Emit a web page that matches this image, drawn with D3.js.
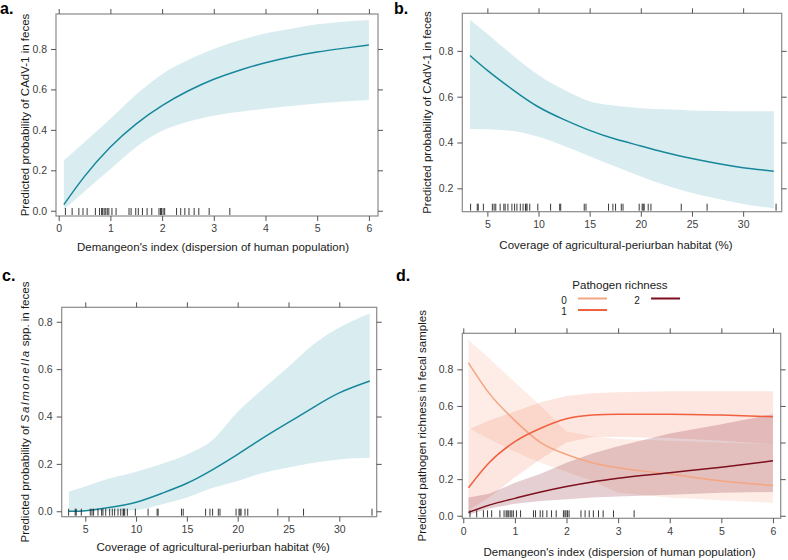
<!DOCTYPE html>
<html>
<head>
<meta charset="utf-8">
<script src="https://cdn.jsdelivr.net/npm/d3@7"></script>
<style>
  body { margin: 0; background: #fff; }
  svg text { font-family: "Liberation Sans", Arial, sans-serif; }
</style>
</head>
<body>
<svg id="fig" width="788" height="560"></svg>
<script>
// ---- data ----

// panel a: CAdV-1 vs Demangeon's index
var demX = [0.1, 0.5, 1, 1.5, 2, 2.5, 3, 3.5, 4, 4.5, 5, 5.5, 6];
var cadvDemFit = [0.03, 0.17, 0.315, 0.43, 0.52, 0.592, 0.65, 0.695, 0.732, 0.762, 0.785, 0.803, 0.82];
var cadvDemUpper = [0.25, 0.34, 0.455, 0.575, 0.675, 0.745, 0.80, 0.843, 0.877, 0.90, 0.922, 0.935, 0.943];
var cadvDemLower = [0.005, 0.095, 0.205, 0.315, 0.395, 0.44, 0.47, 0.49, 0.505, 0.518, 0.53, 0.54, 0.548];

// panel b: CAdV-1 vs agricultural-periurban coverage
var agriXb = [3.3, 5, 7.5, 10, 12.5, 15, 17.5, 20, 22.5, 25, 27.5, 30, 33];
var cadvAgriFit = [0.78, 0.715, 0.63, 0.555, 0.50, 0.453, 0.415, 0.385, 0.355, 0.33, 0.308, 0.29, 0.275];
var cadvAgriUpper = [0.936, 0.875, 0.78, 0.695, 0.63, 0.58, 0.56, 0.55, 0.545, 0.54, 0.538, 0.537, 0.537];
var cadvAgriLower = [0.459, 0.458, 0.45, 0.425, 0.385, 0.34, 0.295, 0.252, 0.212, 0.18, 0.155, 0.132, 0.113];

// panel c: Salmonella vs agricultural-periurban coverage
var agriXc = [3.4, 5, 7.5, 10, 12.5, 15, 17.5, 20, 22.5, 25, 27.5, 30, 33];
var salmFit = [0.0, 0.002, 0.017, 0.038, 0.075, 0.118, 0.175, 0.24, 0.31, 0.375, 0.44, 0.50, 0.55];
var salmUpper = [0.083, 0.105, 0.14, 0.167, 0.20, 0.24, 0.30, 0.42, 0.517, 0.61, 0.706, 0.776, 0.835];
var salmLower = [0.0, 0.0, 0.0, 0.005, 0.028, 0.058, 0.098, 0.128, 0.162, 0.185, 0.205, 0.219, 0.226];

// panel d: pathogen richness (0, 1, 2) vs Demangeon's index
var richX = [0.1, 0.5, 1, 1.5, 2, 2.5, 3, 4, 5, 6];
var richLevels = ['0', '1', '2'];
var rich0Fit = [0.836, 0.67, 0.52, 0.40, 0.335, 0.29, 0.262, 0.228, 0.19, 0.165];
var rich0Upper = [0.96, 0.86, 0.73, 0.60, 0.46, 0.435, 0.42, 0.41, 0.40, 0.39];
var rich0Lower = [0.48, 0.42, 0.35, 0.29, 0.24, 0.19, 0.125, 0.10, 0.085, 0.07];
var rich1Fit = [0.153, 0.29, 0.405, 0.478, 0.53, 0.55, 0.555, 0.555, 0.55, 0.541];
var rich1Upper = [0.47, 0.52, 0.57, 0.62, 0.655, 0.67, 0.675, 0.68, 0.68, 0.68];
var rich1Lower = [0.03, 0.10, 0.21, 0.31, 0.40, 0.43, 0.43, 0.425, 0.41, 0.39];
var rich2Fit = [0.018, 0.058, 0.095, 0.13, 0.16, 0.185, 0.205, 0.235, 0.265, 0.30];
var rich2Upper = [0.10, 0.12, 0.18, 0.23, 0.29, 0.34, 0.38, 0.45, 0.50, 0.555];
var rich2Lower = [0.005, 0.04, 0.065, 0.08, 0.09, 0.10, 0.105, 0.115, 0.125, 0.13];

// rug marks (observed covariate values)
var demRug = [0.13, 0.26, 0.39, 0.47, 0.55, 0.71, 0.79, 0.83, 0.85, 0.88, 0.91, 0.94, 0.97, 1.03, 1.11,
  1.36, 1.40, 1.49, 1.54, 1.62, 1.71, 1.80, 1.94, 1.97, 1.99, 2.02, 2.05, 2.28, 2.36, 2.44, 2.52,
  2.62, 2.71, 2.91, 3.31];
var agriRug = [3.36, 4.01, 4.11, 4.61, 5.49, 5.66, 5.82, 6.25, 6.61, 6.74, 7.01, 7.40, 7.66, 7.89, 8.22,
  8.49, 8.72, 8.78, 8.88, 9.14, 9.93, 11.18, 12.07, 12.17, 14.47, 14.64, 16.84, 17.27, 17.53, 18.09,
  18.26, 19.84, 20.13, 20.23, 20.33, 20.72, 20.99, 23.95, 26.48, 33.22];

// tick labels
var demTicks = [0, 1, 2, 3, 4, 5, 6];
var agriTicks = [5, 10, 15, 20, 25, 30];
var probTicks = [0, 0.2, 0.4, 0.6, 0.8];
var probTicksB = [0.2, 0.4, 0.6, 0.8];

var TEAL = '#17879a', TEAL_BAND = '#d9edf1';
var richColors = ['#f4a582', '#f0603e', '#7d0f1f'];
var richBandOpacity = [0.2, 0.16, 0.2];

var svg = d3.select('#fig');

function zip(_x, _y) {
  return _x.map(function(d, i) { return [d, _y[i]]; });
}

function drawPanel(_p) {
  var x = d3.scaleLinear().domain(_p.xDomain).range([_p.box.left, _p.box.right]);
  var y = d3.scaleLinear().domain(_p.yDomain).range([_p.box.bottom, _p.box.top]);
  var g = svg.append('g');

  var clipId = 'clip-' + _p.name;
  svg.append('clipPath').attr('id', clipId)
    .append('rect')
    .attr('x', _p.box.left).attr('y', _p.box.top)
    .attr('width', _p.box.right - _p.box.left)
    .attr('height', _p.box.bottom - _p.box.top);

  var plot = g.append('g').attr('clip-path', 'url(#' + clipId + ')');

  // confidence bands first, lines on top
  _p.series.forEach(function(s) {
    var area = d3.area()
      .curve(s.bandCurve)
      .x(function(d) { return x(d[0]); })
      .y0(function(d) { return y(d[1]); })
      .y1(function(d) { return y(d[2]); });
    var rows = _p.xs.map(function(d, i) { return [d, s.lower[i], s.upper[i]]; });
    plot.append('path')
      .attr('d', area(rows))
      .attr('fill', s.bandColor)
      .attr('fill-opacity', s.bandOpacity);
  });

  _p.series.forEach(function(s) {
    var line = d3.line()
      .curve(s.lineCurve)
      .x(function(d) { return x(d[0]); })
      .y(function(d) { return y(d[1]); });
    plot.append('path')
      .attr('d', line(zip(_p.xs, s.fit)))
      .attr('fill', 'none')
      .attr('stroke', s.color)
      .attr('stroke-width', 1.5);
  });

  // rug
  g.selectAll('.rug-' + _p.name)
    .data(_p.rug).enter()
    .append('line')
    .attr('x1', function(d) { return x(d); })
    .attr('x2', function(d) { return x(d); })
    .attr('y1', _p.box.bottom - 1)
    .attr('y2', _p.box.bottom - 8)
    .attr('stroke', '#222')
    .attr('stroke-width', 0.9);

  // box
  g.append('rect')
    .attr('x', _p.box.left).attr('y', _p.box.top)
    .attr('width', _p.box.right - _p.box.left)
    .attr('height', _p.box.bottom - _p.box.top)
    .attr('fill', 'none')
    .attr('stroke', '#8a8a8a')
    .attr('stroke-width', 1.2);

  // axes on all four sides, labels only bottom + left
  var axes = [
    [d3.axisBottom(x).tickValues(_p.xTicks).tickFormat(d3.format('d')), 'translate(0,' + _p.box.bottom + ')', true],
    [d3.axisTop(x).tickValues(_p.xTicks), 'translate(0,' + _p.box.top + ')', false],
    [d3.axisLeft(y).tickValues(_p.yTicks).tickFormat(d3.format('.1f')), 'translate(' + _p.box.left + ',0)', true],
    [d3.axisRight(y).tickValues(_p.yTicks), 'translate(' + _p.box.right + ',0)', false]
  ];
  axes.forEach(function(a) {
    var ax = a[0].tickSize(5).tickPadding(4);
    if (!a[2]) ax.tickFormat('');
    var ag = g.append('g').attr('transform', a[1]).call(ax);
    ag.select('.domain').remove();
    ag.selectAll('.tick line').attr('stroke', '#555').attr('stroke-width', 1);
    ag.selectAll('.tick text')
      .attr('fill', '#404040')
      .style('font-size', '10.5px')
      .style('font-family', '"Liberation Sans", Arial, sans-serif');
  });

  // axis titles
  var cx = (_p.box.left + _p.box.right) / 2 + (_p.xTitleShift || 0);
  g.append('text')
    .attr('x', cx)
    .attr('y', _p.xTitleY)
    .attr('text-anchor', 'middle')
    .attr('fill', '#1a1a1a')
    .style('font-size', '11.5px')
    .text(_p.xTitle);

  var cy = (_p.box.top + _p.box.bottom) / 2;
  var yt = g.append('text')
    .attr('transform', 'translate(' + _p.yTitleX + ',' + cy + ') rotate(-90)')
    .attr('text-anchor', 'middle')
    .attr('fill', '#1a1a1a')
    .style('font-size', '11.5px');
  _p.yTitle.forEach(function(part) {
    var t = yt.append('tspan').text(part.text);
    if (part.italic) t.style('font-style', 'italic').style('letter-spacing', '1.6px');
  });

  // panel letter
  svg.append('text')
    .attr('x', _p.letterPos[0])
    .attr('y', _p.letterPos[1])
    .attr('fill', '#000')
    .style('font-size', '16px')
    .style('font-weight', 'bold')
    .text(_p.letter);

  return { x: x, y: y };
}

function tealSeries(_fit, _lower, _upper) {
  return [{
    fit: _fit, lower: _lower, upper: _upper,
    color: TEAL, bandColor: TEAL_BAND, bandOpacity: 1,
    lineCurve: d3.curveNatural, bandCurve: d3.curveMonotoneX
  }];
}

// a.
drawPanel({
  name: 'a', letter: 'a.', letterPos: [0, 14],
  box: { left: 56, right: 378, top: 14, bottom: 216 },
  xDomain: [-0.052, 6.176], yDomain: [-0.026, 0.973],
  xs: demX, series: tealSeries(cadvDemFit, cadvDemLower, cadvDemUpper),
  rug: demRug, xTicks: demTicks, yTicks: probTicks,
  xTitle: "Demangeon's index (dispersion of human population)", xTitleY: 251, xTitleShift: -4,
  yTitle: [{ text: 'Predicted probability of CAdV-1 in feces' }], yTitleX: 29
});

// b.
drawPanel({
  name: 'b', letter: 'b.', letterPos: [394, 14],
  box: { left: 462.3, right: 781.7, top: 13.3, bottom: 211.7 },
  xDomain: [2.55, 33.77], yDomain: [0.098, 0.964],
  xs: agriXb, series: tealSeries(cadvAgriFit, cadvAgriLower, cadvAgriUpper),
  rug: agriRug, xTicks: agriTicks, yTicks: probTicksB,
  xTitle: 'Coverage of agricultural-periurban habitat (%)', xTitleY: 249, xTitleShift: -6,
  yTitle: [{ text: 'Predicted probability of CAdV-1 in feces' }], yTitleX: 431
});

// c.
drawPanel({
  name: 'c', letter: 'c.', letterPos: [2, 281],
  box: { left: 61.7, right: 376.7, top: 307.3, bottom: 516.7 },
  xDomain: [2.68, 33.68], yDomain: [-0.023, 0.861],
  xs: agriXc, series: tealSeries(salmFit, salmLower, salmUpper),
  rug: agriRug, xTicks: agriTicks, yTicks: probTicks,
  xTitle: 'Coverage of agricultural-periurban habitat (%)', xTitleY: 551, xTitleShift: -6,
  yTitle: [{ text: 'Predicted probability of  ' }, { text: 'Salmonella', italic: true }, { text: ' spp. in feces' }],
  yTitleX: 29
});

// d.
var richFits = [rich0Fit, rich1Fit, rich2Fit];
var richLowers = [rich0Lower, rich1Lower, rich2Lower];
var richUppers = [rich0Upper, rich1Upper, rich2Upper];

drawPanel({
  name: 'd', letter: 'd.', letterPos: [396, 281],
  box: { left: 462.3, right: 780.7, top: 333.3, bottom: 518.3 },
  xDomain: [-0.019, 6.15], yDomain: [-0.014, 0.997],
  xs: richX,
  series: richLevels.map(function(lv, i) {
    return {
      fit: richFits[i], lower: richLowers[i], upper: richUppers[i],
      color: richColors[i], bandColor: richColors[i], bandOpacity: richBandOpacity[i],
      lineCurve: d3.curveMonotoneX, bandCurve: d3.curveLinear
    };
  }),
  rug: demRug, xTicks: demTicks, yTicks: probTicks,
  xTitle: "Demangeon's index (dispersion of human population)", xTitleY: 556, xTitleShift: -2,
  yTitle: [{ text: 'Predicted pathogen richness in fecal samples' }], yTitleX: 426
});

// legend for panel d
var legend = svg.append('g');
legend.append('text')
  .attr('x', 620).attr('y', 289)
  .attr('text-anchor', 'middle')
  .attr('fill', '#1a1a1a')
  .style('font-size', '11.5px')
  .text('Pathogen richness');

var legendPos = [[564, 299.5], [564, 311], [637, 299.5]];
richLevels.forEach(function(lv, i) {
  var p = legendPos[i];
  legend.append('text')
    .attr('x', p[0]).attr('y', p[1] + 4)
    .attr('text-anchor', 'middle')
    .attr('fill', '#1a1a1a')
    .style('font-size', '10px')
    .text(lv);
  legend.append('line')
    .attr('x1', p[0] + 14).attr('x2', p[0] + 43)
    .attr('y1', p[1] - 1).attr('y2', p[1] - 1)
    .attr('stroke', richColors[i])
    .attr('stroke-width', 2);
});
</script>
</body>
</html>
